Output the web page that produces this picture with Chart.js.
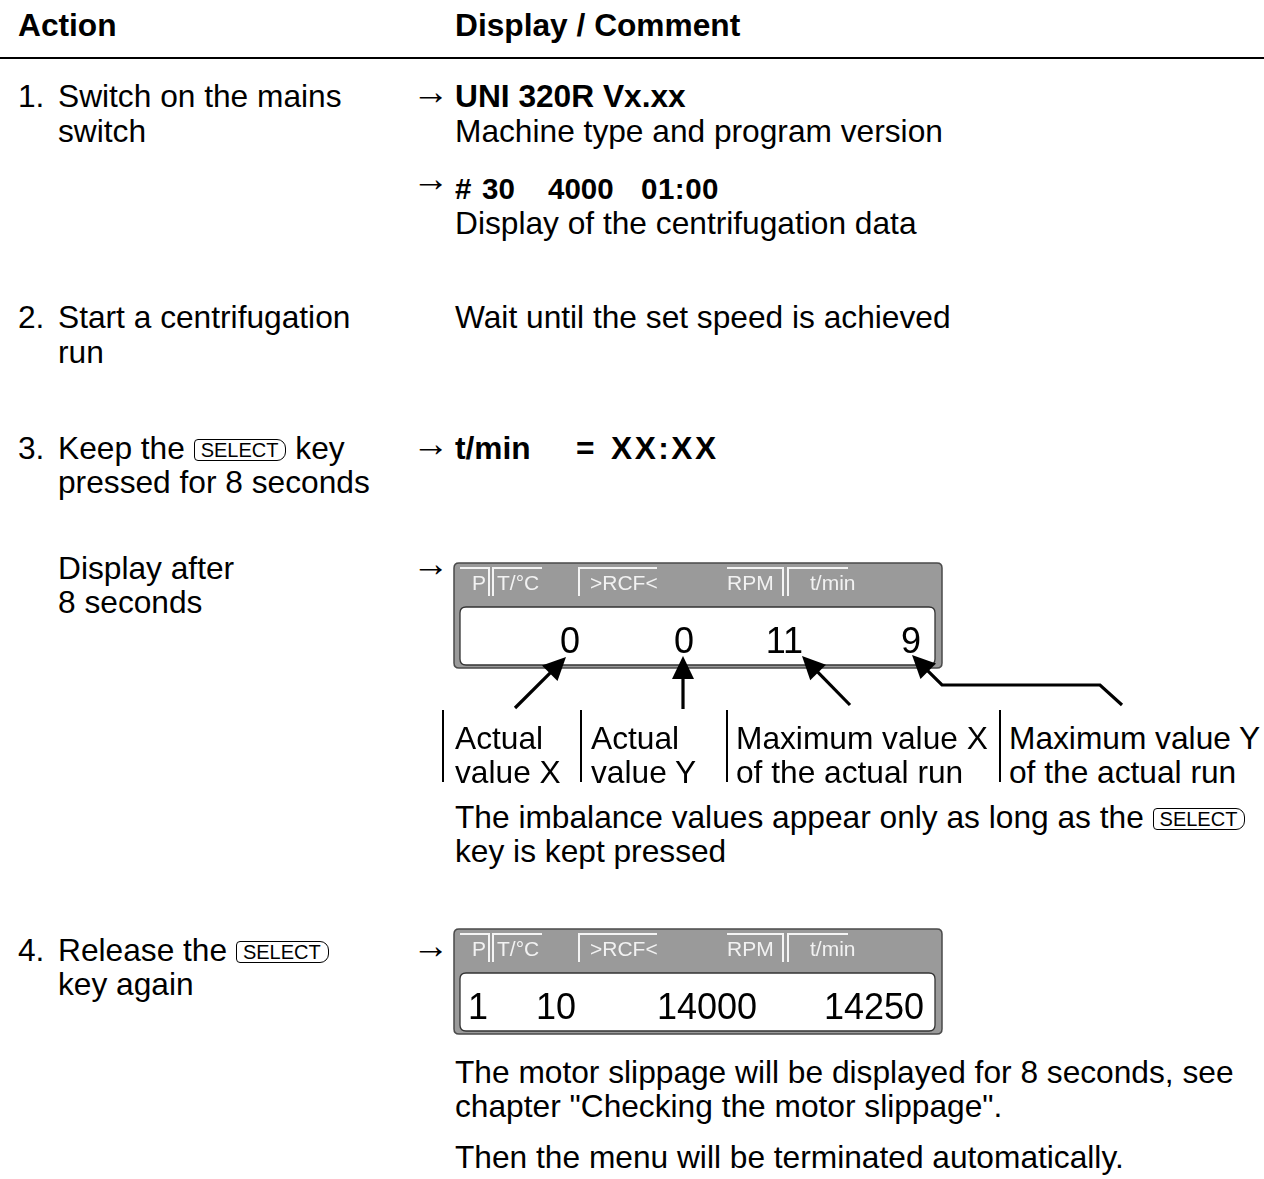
<!DOCTYPE html>
<html>
<head>
<meta charset="utf-8">
<script src="https://cdn.jsdelivr.net/npm/chart.js@4.4.1/dist/chart.umd.min.js"></script>
<style>
  html,body{margin:0;padding:0;background:#fff;}
  body{width:1264px;height:1179px;position:relative;overflow:hidden;
       font-family:"Liberation Sans",Arial,Helvetica,sans-serif;color:#000;}
  .t{position:absolute;font-size:31.7px;line-height:34px;white-space:pre;}
  .b{font-weight:bold;}
  .ar{position:absolute;font-size:37px;line-height:34px;white-space:pre;}
  .key{display:inline-block;font-size:20px;line-height:19px;border:1.5px solid #000;
       border-radius:4px 9px 9px 4px;padding:1px 7px 0 6px;vertical-align:2px;}
  .sep{position:absolute;width:2px;background:#000;}
  canvas{position:absolute;}
</style>
</head>
<body>
<script>
// ---- data ----
const fieldLabels = ['P', 'T/°C', '>RCF<', 'RPM', 't/min'];
const imbalanceNames = ['Actual value X', 'Actual value Y', 'Maximum value X', 'Maximum value Y'];
const imbalanceValues = [0, 0, 11, 9];          // display after 8 seconds
const releaseValues = [1, 10, 14000, 14250];    // display after releasing SELECT
</script>

<div class="t b" style="left:18px;top:8px">Action</div>
<div class="t b" style="left:455px;top:8px">Display / Comment</div>
<div style="position:absolute;left:0;top:57px;width:1264px;height:2px;background:#000"></div>

<div class="t" style="left:18px;top:79px">1.</div>
<div class="t" style="left:58px;top:79px">Switch on the mains</div>
<div class="t" style="left:58px;top:114px">switch</div>
<div class="ar" style="left:412px;top:75px">→</div>
<div class="t b" style="left:455px;top:79px">UNI 320R Vx.xx</div>
<div class="t" style="left:455px;top:114px">Machine type and program version</div>
<div class="ar" style="left:412px;top:162px">→</div>
<div class="t b" style="left:455px;top:172px;font-size:29.5px">#</div>
<div class="t b" style="left:482px;top:172px;font-size:29.5px">30</div>
<div class="t b" style="left:548px;top:172px;font-size:29.5px">4000</div>
<div class="t b" style="left:641px;top:172px;font-size:29.5px;letter-spacing:0.5px">01:00</div>
<div class="t" style="left:455px;top:206px">Display of the centrifugation data</div>

<div class="t" style="left:18px;top:300px">2.</div>
<div class="t" style="left:58px;top:300px">Start a centrifugation</div>
<div class="t" style="left:58px;top:335px">run</div>
<div class="t" style="left:455px;top:300px">Wait until the set speed is achieved</div>

<div class="t" style="left:18px;top:431px">3.</div>
<div class="t" style="left:58px;top:431px">Keep the <span class="key">SELECT</span> key</div>
<div class="t" style="left:58px;top:465px">pressed for 8 seconds</div>
<div class="ar" style="left:412px;top:427px">→</div>
<div class="t b" style="left:455px;top:431px">t/min</div>
<div class="t b" style="left:576px;top:431px">=</div>
<div class="t b" style="left:611px;top:431px;letter-spacing:2.5px">XX:XX</div>

<div class="t" style="left:58px;top:551px">Display after</div>
<div class="t" style="left:58px;top:585px">8 seconds</div>
<div class="ar" style="left:412px;top:547px">→</div>

<canvas id="d1" width="824" height="160" style="left:440px;top:555px;width:824px;height:160px"></canvas>

<div class="sep" style="left:442px;top:710px;height:72px"></div>
<div class="sep" style="left:580px;top:710px;height:72px"></div>
<div class="sep" style="left:726px;top:710px;height:72px"></div>
<div class="sep" style="left:999px;top:710px;height:72px"></div>
<div class="t" style="left:455px;top:721px">Actual</div>
<div class="t" style="left:455px;top:755px">value X</div>
<div class="t" style="left:591px;top:721px">Actual</div>
<div class="t" style="left:591px;top:755px">value Y</div>
<div class="t" style="left:736px;top:721px">Maximum value X</div>
<div class="t" style="left:736px;top:755px">of the actual run</div>
<div class="t" style="left:1009px;top:721px">Maximum value Y</div>
<div class="t" style="left:1009px;top:755px">of the actual run</div>

<div class="t" style="left:455px;top:800px">The imbalance values appear only as long as the <span class="key">SELECT</span></div>
<div class="t" style="left:455px;top:834px">key is kept pressed</div>

<div class="t" style="left:18px;top:933px">4.</div>
<div class="t" style="left:58px;top:933px">Release the <span class="key">SELECT</span></div>
<div class="t" style="left:58px;top:967px">key again</div>
<div class="ar" style="left:412px;top:929px">→</div>

<canvas id="d2" width="824" height="125" style="left:440px;top:921px;width:824px;height:125px"></canvas>

<div class="t" style="left:455px;top:1055px">The motor slippage will be displayed for 8 seconds, see</div>
<div class="t" style="left:455px;top:1089px">chapter "Checking the motor slippage".</div>
<div class="t" style="left:455px;top:1140px">Then the menu will be terminated automatically.</div>

<script>
// LCD character-column position (right edge) of each field
const imbalanceCols = [6.0, 11.7, 17.15, 23.05];
const releaseCols = [1.4, 5.8, 14.85, 23.2];

function roundRect(ctx, x, y, w, h, r) {
  ctx.beginPath();
  ctx.moveTo(x + r, y);
  ctx.lineTo(x + w - r, y); ctx.quadraticCurveTo(x + w, y, x + w, y + r);
  ctx.lineTo(x + w, y + h - r); ctx.quadraticCurveTo(x + w, y + h, x + w - r, y + h);
  ctx.lineTo(x + r, y + h); ctx.quadraticCurveTo(x, y + h, x, y + h - r);
  ctx.lineTo(x, y + r); ctx.quadraticCurveTo(x, y, x + r, y);
  ctx.closePath();
}

function arrowHead(ctx, fx, fy, tx, ty) {
  const ang = Math.atan2(ty - fy, tx - fx);
  const L = 23, W = 11;
  ctx.beginPath();
  ctx.moveTo(tx, ty);
  ctx.lineTo(tx - L * Math.cos(ang) + W * Math.sin(ang), ty - L * Math.sin(ang) - W * Math.cos(ang));
  ctx.lineTo(tx - L * Math.cos(ang) - W * Math.sin(ang), ty - L * Math.sin(ang) + W * Math.cos(ang));
  ctx.closePath();
  ctx.fill();
}

function lcdPlugin(values, withArrows) {
  return {
    id: 'lcd',
    beforeDatasetsDraw(chart) {
      const ctx = chart.ctx, a = chart.chartArea;
      ctx.save();
      // outer grey frame
      roundRect(ctx, a.left - 6, a.top - 44, a.right - a.left + 13, a.bottom - a.top + 47, 5);
      ctx.fillStyle = '#9a9a9a'; ctx.fill();
      ctx.lineWidth = 1.5; ctx.strokeStyle = '#4a4a4a'; ctx.stroke();
      // inner white window
      roundRect(ctx, a.left, a.top, a.right - a.left, a.bottom - a.top, 6);
      ctx.fillStyle = '#ffffff'; ctx.fill();
      ctx.lineWidth = 1.3; ctx.strokeStyle = '#333'; ctx.stroke();
      // header labels
      const L = a.left, T = a.top - 44;
      ctx.fillStyle = '#f2f2f2';
      ctx.font = '21px "Liberation Sans", Arial, sans-serif';
      ctx.textBaseline = 'alphabetic';
      const lx = [12, 37, 130, 267, 350];
      fieldLabels.forEach((s, i) => ctx.fillText(s, L + lx[i], T + 27));
      ctx.strokeStyle = '#f4f4f4'; ctx.lineWidth = 2;
      const y0 = T + 5, y1 = T + 33;
      ctx.beginPath();
      ctx.moveTo(L, y0); ctx.lineTo(L + 29, y0); ctx.lineTo(L + 29, y1);
      ctx.moveTo(L + 33, y1); ctx.lineTo(L + 33, y0); ctx.lineTo(L + 82, y0);
      ctx.moveTo(L + 119, y1); ctx.lineTo(L + 119, y0); ctx.lineTo(L + 197, y0);
      ctx.moveTo(L + 267, y0); ctx.lineTo(L + 323, y0); ctx.lineTo(L + 323, y1);
      ctx.moveTo(L + 328, y1); ctx.lineTo(L + 328, y0); ctx.lineTo(L + 388, y0);
      ctx.stroke();
      ctx.restore();
    },
    afterDatasetsDraw(chart) {
      const ctx = chart.ctx, a = chart.chartArea;
      const pts = chart.getDatasetMeta(0).data;
      ctx.save();
      ctx.fillStyle = '#000';
      ctx.font = '36px "Liberation Sans", Arial, sans-serif';
      ctx.textAlign = 'right';
      ctx.textBaseline = 'alphabetic';
      pts.forEach((p, i) => ctx.fillText(String(values[i]), p.x, p.y));
      if (withArrows) {
        const b = a.bottom;
        ctx.strokeStyle = '#000'; ctx.fillStyle = '#000'; ctx.lineWidth = 3.2;
        const segs = [
          [[pts[0].x - 65, b + 43], [pts[0].x - 14, b - 8]],
          [[pts[1].x - 11, b + 44], [pts[1].x - 11, b - 9]],
          [[pts[2].x + 47, b + 40], [pts[2].x - 1, b - 9]],
          [[pts[3].x + 201, b + 40], [pts[3].x + 179, b + 20], [pts[3].x + 21, b + 20], [pts[3].x - 9, b - 10]]
        ];
        segs.forEach(s => {
          const n = s.length;
          const [fx, fy] = s[n - 2], [tx, ty] = s[n - 1];
          const ang = Math.atan2(ty - fy, tx - fx);
          ctx.beginPath();
          ctx.moveTo(s[0][0], s[0][1]);
          for (let k = 1; k < n - 1; k++) ctx.lineTo(s[k][0], s[k][1]);
          ctx.lineTo(tx - 17 * Math.cos(ang), ty - 17 * Math.sin(ang));
          ctx.stroke();
          arrowHead(ctx, fx, fy, tx, ty);
        });
      }
      ctx.restore();
    }
  };
}

function makeDisplay(id, values, cols, withArrows, pad) {
  return new Chart(document.getElementById(id), {
    type: 'scatter',
    data: {
      datasets: [{
        label: 'LCD',
        data: cols.map(c => ({ x: c, y: 0.2 })),
        pointRadius: 0, pointHoverRadius: 0, showLine: false
      }]
    },
    options: {
      responsive: false, animation: false, events: [],
      layout: { padding: pad },
      plugins: { legend: { display: false }, tooltip: { enabled: false } },
      scales: {
        x: { type: 'linear', min: 0, max: 23.75, display: false },
        y: { type: 'linear', min: 0, max: 1, display: false }
      }
    },
    plugins: [lcdPlugin(values, withArrows)]
  });
}

makeDisplay('d1', imbalanceValues, imbalanceCols, true, { left: 20, right: 329, top: 52, bottom: 50 });
makeDisplay('d2', releaseValues, releaseCols, false, { left: 20, right: 329, top: 52, bottom: 15 });
</script>
</body>
</html>
